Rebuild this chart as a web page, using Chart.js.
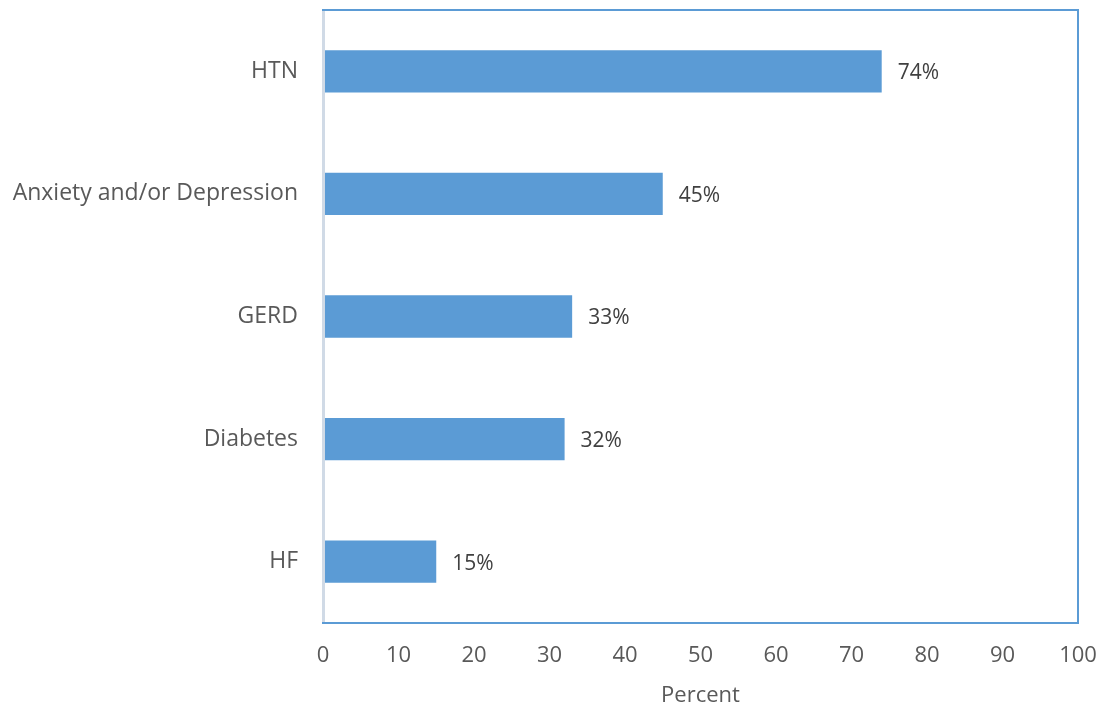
<!DOCTYPE html>
<html>
<head>
    <meta charset="UTF-8">
    <title>Comorbidities Chart</title>
    <script src="https://cdn.jsdelivr.net/npm/chart.js"></script>
    <style>
        html, body { margin: 0; padding: 0; background: #fff; }
        #wrap { width: 1106px; height: 711px; }
    </style>
</head>
<body>
    <div id="wrap">
        <canvas id="comorbChart" width="1106" height="711"></canvas>
    </div>

    <script>
        var categories = ['HTN', 'Anxiety and/or Depression', 'GERD', 'Diabetes', 'HF'];
        var percents = [74, 45, 33, 32, 15];
        var xTicks = [0, 10, 20, 30, 40, 50, 60, 70, 80, 90, 100];

        var fontFamily = "'Open Sans', 'Liberation Sans', sans-serif";
        var textColor = '#595959';

        // border round the plot area and the light left axis line
        var frame = {
            id: 'frame',
            afterDatasetsDraw: function (chart) {
                var a = chart.chartArea;
                var ctx = chart.ctx;
                ctx.save();
                ctx.strokeStyle = '#5B9BD5';
                ctx.lineWidth = 2;
                ctx.strokeRect(a.left, a.top, a.right - a.left, a.bottom - a.top);
                ctx.strokeStyle = '#D0DAE6';
                ctx.lineWidth = 3;
                ctx.beginPath();
                ctx.moveTo(a.left + 0.5, a.top + 1);
                ctx.lineTo(a.left + 0.5, a.bottom - 1);
                ctx.stroke();
                ctx.restore();
            }
        };

        var barLabels = {
            id: 'barLabels',
            afterDatasetsDraw: function (chart) {
                var ctx = chart.ctx;
                var meta = chart.getDatasetMeta(0);
                ctx.save();
                ctx.font = '21px ' + fontFamily;
                ctx.fillStyle = '#404040';
                ctx.textAlign = 'left';
                ctx.textBaseline = 'middle';
                meta.data.forEach(function (bar, i) {
                    ctx.fillText(percents[i] + '%', bar.x + 16, bar.y + 2);
                });
                ctx.restore();
            }
        };

        var ctx = document.getElementById('comorbChart').getContext('2d');
        var chart = new Chart(ctx, {
            type: 'bar',
            data: {
                labels: categories,
                datasets: [{
                    data: percents,
                    backgroundColor: '#5B9BD5',
                    borderWidth: 0,
                    categoryPercentage: 1,
                    barPercentage: 0.345
                }]
            },
            options: {
                indexAxis: 'y',
                responsive: false,
                animation: false,
                layout: { padding: { top: 10, right: 28, left: 0, bottom: 0 } },
                plugins: {
                    legend: { display: false },
                    tooltip: { enabled: false }
                },
                scales: {
                    x: {
                        min: 0,
                        max: 100,
                        afterBuildTicks: function (scale) {
                            scale.ticks = xTicks.map(function (v) { return { value: v }; });
                        },
                        grid: { display: false, drawTicks: false },
                        border: { display: false },
                        ticks: {
                            color: textColor,
                            padding: 20,
                            maxRotation: 0,
                            font: { family: fontFamily, size: 22 }
                        },
                        title: {
                            display: true,
                            text: 'Percent',
                            color: textColor,
                            padding: { top: 3, bottom: 2 },
                            font: { family: fontFamily, size: 22 }
                        },
                        afterFit: function (scale) {
                            scale.height = 88;
                            scale.paddingLeft = 0;
                            scale.paddingRight = 0;
                        }
                    },
                    y: {
                        grid: { display: false, drawTicks: false },
                        border: { display: false },
                        ticks: {
                            color: textColor,
                            padding: 25,
                            font: { family: fontFamily, size: 23 }
                        },
                        afterFit: function (scale) {
                            scale.width = 323;
                            scale.paddingTop = 0;
                            scale.paddingBottom = 0;
                        }
                    }
                }
            },
            plugins: [frame, barLabels]
        });
    </script>
</body>
</html>
